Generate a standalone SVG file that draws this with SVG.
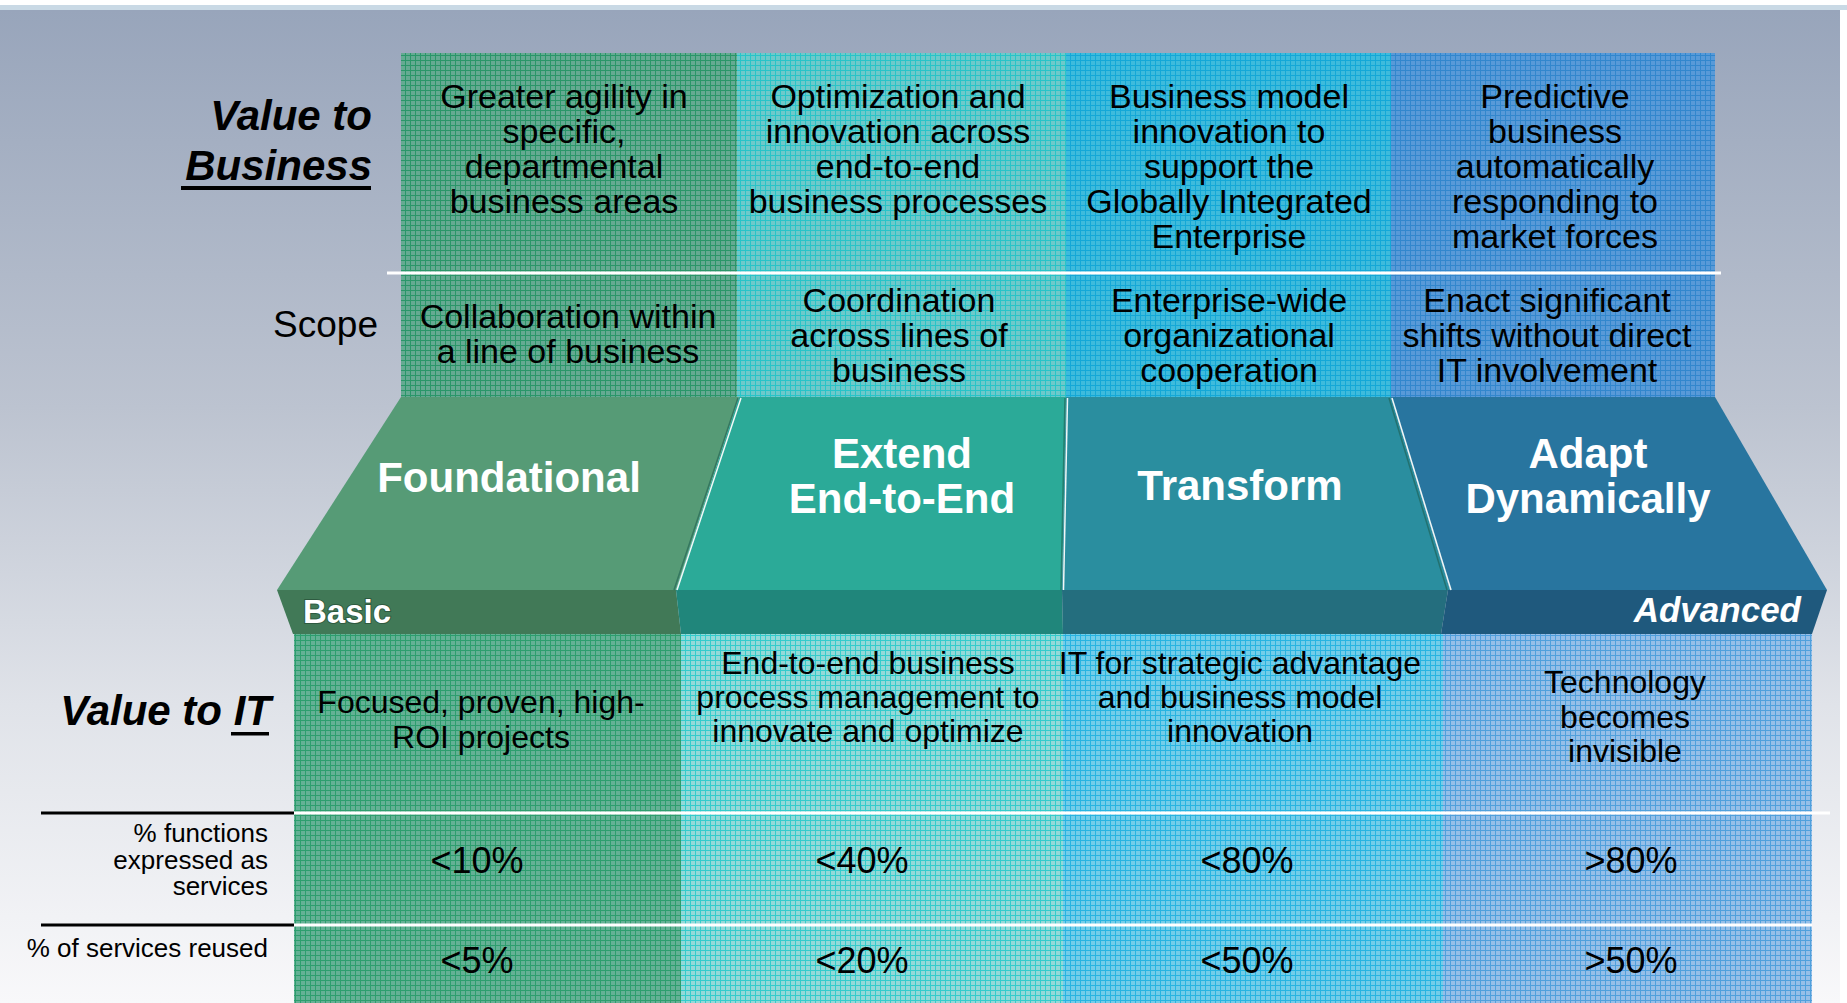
<svg xmlns="http://www.w3.org/2000/svg" width="1847" height="1003" viewBox="0 0 1847 1003">
<defs>
<linearGradient id="bg" x1="0" y1="0" x2="0" y2="1">
<stop offset="0" stop-color="#98A5BB"/>
<stop offset="0.4" stop-color="#BCC3D0"/>
<stop offset="0.7" stop-color="#E0E3E9"/>
<stop offset="1" stop-color="#F8F8FA"/>
</linearGradient>
<pattern id="pB1" width="5" height="5" patternUnits="userSpaceOnUse"><rect width="5" height="5" fill="#65AA92"/><path d="M0 .5H5M.5 0V5" stroke="#2A9669" stroke-width="1"/></pattern>
<pattern id="pB2" width="5" height="5" patternUnits="userSpaceOnUse"><rect width="5" height="5" fill="#6EC9CA"/><path d="M0 .5H5M.5 0V5" stroke="#28C4C8" stroke-width="1"/></pattern>
<pattern id="pB3" width="5" height="5" patternUnits="userSpaceOnUse"><rect width="5" height="5" fill="#3EBBDC"/><path d="M0 .5H5M.5 0V5" stroke="#14A8D7" stroke-width="1"/></pattern>
<pattern id="pB4" width="5" height="5" patternUnits="userSpaceOnUse"><rect width="5" height="5" fill="#589AD8"/><path d="M0 .5H5M.5 0V5" stroke="#3287CD" stroke-width="1"/></pattern>
<pattern id="pI1" width="5" height="5" patternUnits="userSpaceOnUse"><rect width="5" height="5" fill="#64B195"/><path d="M0 .5H5M.5 0V5" stroke="#2D9E6E" stroke-width="1"/></pattern>
<pattern id="pI2" width="5" height="5" patternUnits="userSpaceOnUse"><rect width="5" height="5" fill="#94D9D8"/><path d="M0 .5H5M.5 0V5" stroke="#34CCCC" stroke-width="1"/></pattern>
<pattern id="pI3" width="5" height="5" patternUnits="userSpaceOnUse"><rect width="5" height="5" fill="#73CDE9"/><path d="M0 .5H5M.5 0V5" stroke="#28B4E1" stroke-width="1"/></pattern>
<pattern id="pI4" width="5" height="5" patternUnits="userSpaceOnUse"><rect width="5" height="5" fill="#96BFE8"/><path d="M0 .5H5M.5 0V5" stroke="#50A0DC" stroke-width="1"/></pattern>
<style>
text{font-family:"Liberation Sans",Arial,Helvetica,sans-serif;fill:#000}
.cell{font-size:34px;text-anchor:middle}
.itc{font-size:32px;text-anchor:middle}
.pct{font-size:36px;text-anchor:middle}
.met{font-size:26px;text-anchor:end}
.hdr{font-size:42px;font-weight:bold;font-style:italic;text-anchor:end}
.stage{font-size:42px;font-weight:bold;fill:#fff;text-anchor:middle}
.basic{font-size:33px;font-weight:bold;fill:#fff;stroke:#2E5A40;stroke-width:2px;paint-order:stroke}
.adv{font-size:35px;font-weight:bold;font-style:italic;fill:#fff;text-anchor:end}
.hl{stroke:#F2F8F6;stroke-width:1.5;fill:none}
.sh{stroke:#1E5F52;stroke-width:1.5;fill:none;opacity:.6}
</style>
</defs>

<g id="background">
<rect x="0" y="0" width="1847" height="1003" fill="#FFFFFF"/>
<rect x="0" y="5" width="1847" height="5" fill="#C9D9E5"/>
<rect x="0" y="10" width="1840" height="993" fill="url(#bg)"/>
</g>

<g id="col-business-1"><rect x="401" y="53" width="336" height="344" fill="url(#pB1)"/></g>
<g id="col-business-2"><rect x="737" y="53" width="329" height="344" fill="url(#pB2)"/></g>
<g id="col-business-3"><rect x="1066" y="53" width="325" height="344" fill="url(#pB3)"/></g>
<g id="col-business-4"><rect x="1391" y="53" width="324" height="344" fill="url(#pB4)"/></g>

<g id="col-it-1"><rect x="294" y="634" width="387" height="369" fill="url(#pI1)"/></g>
<g id="col-it-2"><rect x="681" y="634" width="382" height="369" fill="url(#pI2)"/></g>
<g id="col-it-3"><rect x="1063" y="634" width="380" height="369" fill="url(#pI3)"/></g>
<g id="col-it-4"><rect x="1443" y="634" width="369" height="369" fill="url(#pI4)"/></g>

<g id="stage-foundational">
<polygon points="401,397 739,397 676,590 277,590" fill="#569B76"/>
<polygon points="277,590 676,590 681,634 293,634" fill="#417957"/>
<text class="stage" x="509" y="492">Foundational</text>
<text class="basic" x="303" y="623">Basic</text>
</g>
<g id="stage-extend">
<polygon points="739,397 1066,397 1062,590 676,590" fill="#2BAA98"/>
<polygon points="676,590 1062,590 1063,634 681,634" fill="#20867B"/>
<text class="stage" x="902" y="468">Extend</text>
<text class="stage" x="902" y="513">End-to-End</text>
</g>
<g id="stage-transform">
<polygon points="1066,397 1391,397 1450,590 1062,590" fill="#2A8E9F"/>
<polygon points="1062,590 1448,590 1441,634 1063,634" fill="#246E7E"/>
<text class="stage" x="1240" y="500">Transform</text>
</g>
<g id="stage-adapt">
<polygon points="1391,397 1715,397 1827,590 1450,590" fill="#28759F"/>
<polygon points="1448,590 1827,590 1812,634 1441,634" fill="#1F597D"/>
<text class="stage" x="1588" y="468">Adapt</text>
<text class="stage" x="1588" y="513">Dynamically</text>
<text class="adv" x="1801" y="622">Advanced</text>
</g>

<g id="stage-edges">
<line class="sh" x1="738" y1="398" x2="674" y2="590"/>
<line class="hl" x1="741" y1="398" x2="677" y2="590"/>
<line class="sh" x1="1065" y1="398" x2="1061" y2="590"/>
<line class="hl" x1="1067.5" y1="398" x2="1063.5" y2="590"/>
<line class="sh" x1="1389" y1="398" x2="1447" y2="590"/>
<line class="hl" x1="1392" y1="398" x2="1451" y2="590"/>
</g>

<g id="separators">
<rect x="387" y="271.5" width="1334" height="3" fill="#FFFFFF"/>
<rect x="294" y="811.5" width="1536" height="3" fill="#FFFFFF"/>
<rect x="294" y="923.5" width="1518" height="3" fill="#FFFFFF"/>
<rect x="41" y="811.5" width="253" height="3" fill="#000000"/>
<rect x="41" y="923.5" width="253" height="3" fill="#000000"/>
</g>

<g id="label-value-business">
<text class="hdr" x="372" y="130">Value to</text>
<text class="hdr" x="372" y="180">Business</text>
<rect x="181" y="186" width="190" height="4" fill="#000"/>
</g>
<g id="label-scope">
<text x="378" y="337" font-size="37" text-anchor="end">Scope</text>
</g>
<g id="label-value-it">
<text class="hdr" x="271" y="725">Value to IT</text>
<rect x="231" y="732" width="38" height="3.5" fill="#000"/>
</g>
<g id="label-functions">
<text class="met" x="268"><tspan x="268" y="842">% functions</tspan><tspan x="268" y="868.5">expressed as</tspan><tspan x="268" y="895">services</tspan></text>
</g>
<g id="label-reuse">
<text class="met" x="268" y="957">% of services reused</text>
</g>

<g id="text-business">
<text class="cell"><tspan x="564" y="108">Greater agility in</tspan><tspan x="564" y="143">specific,</tspan><tspan x="564" y="178">departmental</tspan><tspan x="564" y="213">business areas</tspan></text>
<text class="cell"><tspan x="898" y="108">Optimization and</tspan><tspan x="898" y="143">innovation across</tspan><tspan x="898" y="178">end-to-end</tspan><tspan x="898" y="213">business processes</tspan></text>
<text class="cell"><tspan x="1229" y="108">Business model</tspan><tspan x="1229" y="143">innovation to</tspan><tspan x="1229" y="178">support the</tspan><tspan x="1229" y="213">Globally Integrated</tspan><tspan x="1229" y="248">Enterprise</tspan></text>
<text class="cell"><tspan x="1555" y="108">Predictive</tspan><tspan x="1555" y="143">business</tspan><tspan x="1555" y="178">automatically</tspan><tspan x="1555" y="213">responding to</tspan><tspan x="1555" y="248">market forces</tspan></text>
</g>

<g id="text-scope">
<text class="cell"><tspan x="568" y="328">Collaboration within</tspan><tspan x="568" y="363">a line of business</tspan></text>
<text class="cell"><tspan x="899" y="312">Coordination</tspan><tspan x="899" y="347">across lines of</tspan><tspan x="899" y="382">business</tspan></text>
<text class="cell"><tspan x="1229" y="312">Enterprise-wide</tspan><tspan x="1229" y="347">organizational</tspan><tspan x="1229" y="382">cooperation</tspan></text>
<text class="cell"><tspan x="1547" y="312">Enact significant</tspan><tspan x="1547" y="347">shifts without direct</tspan><tspan x="1547" y="382">IT involvement</tspan></text>
</g>

<g id="text-it">
<text class="itc"><tspan x="481" y="713">Focused, proven, high-</tspan><tspan x="481" y="748">ROI projects</tspan></text>
<text class="itc"><tspan x="868" y="674">End-to-end business</tspan><tspan x="868" y="708">process management to</tspan><tspan x="868" y="742">innovate and optimize</tspan></text>
<text class="itc"><tspan x="1240" y="674">IT for strategic advantage</tspan><tspan x="1240" y="708">and business model</tspan><tspan x="1240" y="742">innovation</tspan></text>
<text class="itc"><tspan x="1625" y="693">Technology</tspan><tspan x="1625" y="728">becomes</tspan><tspan x="1625" y="762">invisible</tspan></text>
</g>

<g id="text-metrics">
<text class="pct" x="477" y="873">&lt;10%</text>
<text class="pct" x="862" y="873">&lt;40%</text>
<text class="pct" x="1247" y="873">&lt;80%</text>
<text class="pct" x="1631" y="873">&gt;80%</text>
<text class="pct" x="477" y="973">&lt;5%</text>
<text class="pct" x="862" y="973">&lt;20%</text>
<text class="pct" x="1247" y="973">&lt;50%</text>
<text class="pct" x="1631" y="973">&gt;50%</text>
</g>
</svg>
